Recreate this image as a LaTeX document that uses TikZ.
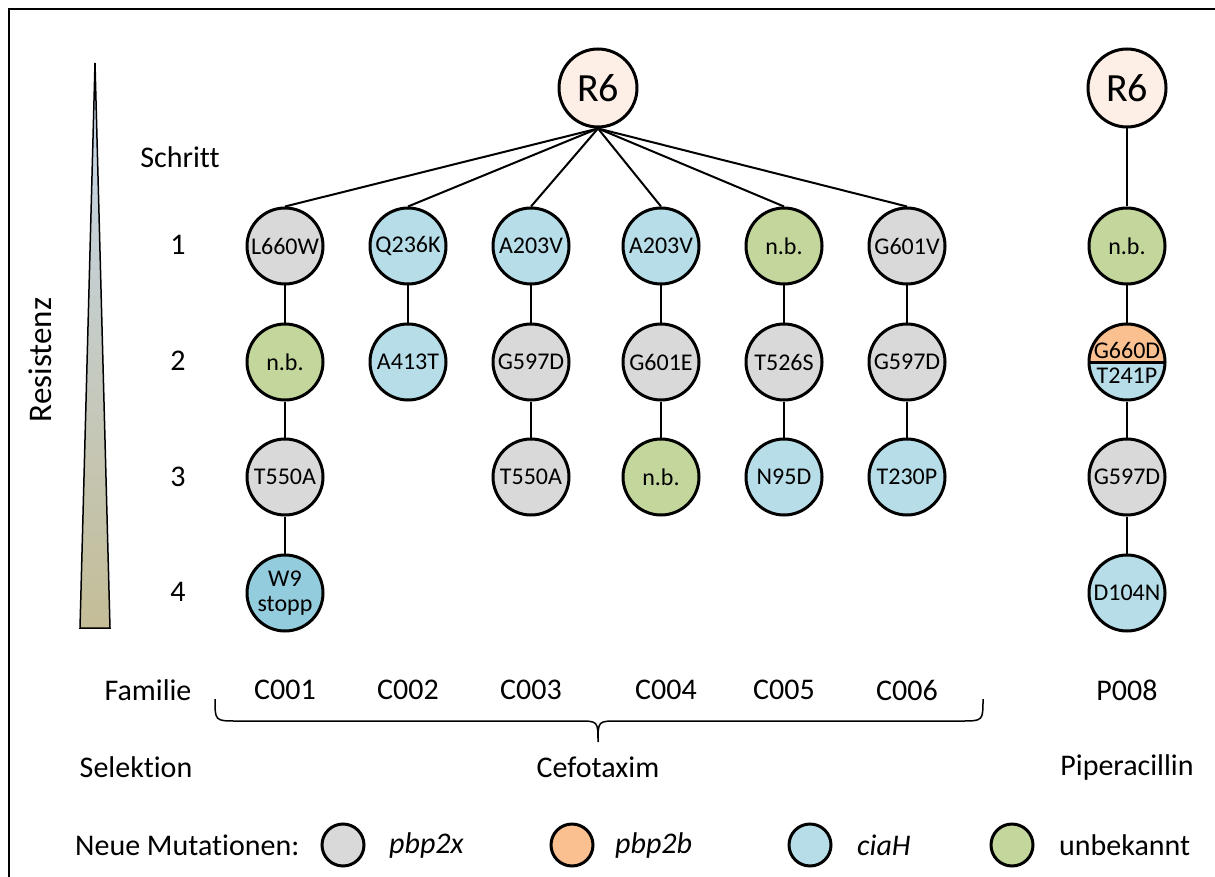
\documentclass[tikz,border=0pt]{standalone}
\usepackage{fontspec}
\setmainfont{Carlito}[Ligatures=NoCommon]
\definecolor{pbpx}{HTML}{D9D9D9}
\definecolor{pbpb}{HTML}{FAC090}
\definecolor{cia}{HTML}{B7DEE8}
\definecolor{ciadark}{HTML}{93CDDD}
\definecolor{unk}{HTML}{C3D69B}
\definecolor{rsix}{HTML}{FDEFE6}
\definecolor{restop}{HTML}{C6D9F1}
\definecolor{resbot}{HTML}{C4BD97}
\tikzset{
  mut/.style={circle,draw,line width=3pt,minimum size=76pt,inner sep=0pt,font=\fontsize{24}{26}\selectfont},
  px/.style={mut,fill=pbpx},
  cx/.style={mut,fill=cia},
  ux/.style={mut,fill=unk},
  lbl/.style={font=\fontsize{30}{32}\selectfont},
  leg/.style={circle,draw,line width=3pt,minimum size=42pt,inner sep=0pt},
}
\begin{document}
\begin{tikzpicture}[x=1pt,y=-1pt]
      \useasboundingbox (0,0) rectangle (1215,877);
      \draw[line width=1.5pt] (9,877) -- (9,9) -- (1215,9);
      \shade[top color=restop,bottom color=resbot] (95,63) -- (110,628) -- (80,628) -- cycle;
      \draw[line width=1.5pt] (95,63) -- (110,628) -- (80,628) -- cycle;
      \node[lbl,font=\fontsize{33}{35}\selectfont,rotate=90] (res) at (40,360) {Resistenz};
      \node[lbl] (schritt) at (180,157) {Schritt};
      \node[lbl] (s1) at (178,245) {1};
      \node[lbl] (s2) at (178,361) {2};
      \node[lbl] (s3) at (178,477) {3};
      \node[lbl] (s4) at (178,592) {4};
      \node[circle,draw,line width=3pt,minimum size=78pt,fill=rsix,font=\fontsize{40}{42}\selectfont] (r6) at (598,88) {R6};
      \node[circle,draw,line width=3pt,minimum size=78pt,fill=rsix,font=\fontsize{40}{42}\selectfont] (r6p) at (1127,88) {R6};
      \draw
        (285,246) node[px] (c1a){L660W}
        (285,362) node[ux] (c1b){n.b.}
        (285,477) node[px] (c1c){T550A}
        (285,593) node[mut,fill=ciadark,align=center,font=\fontsize{24}{25}\selectfont] (c1d){W9\\stopp}
        (408,246) node[cx] (c2a){Q236K}
        (408,362) node[cx] (c2b){A413T}
        (531,246) node[cx] (c3a){A203V}
        (531,362) node[px] (c3b){G597D}
        (531,477) node[px] (c3c){T550A}
        (661,246) node[cx] (c4a){A203V}
        (661,362) node[px] (c4b){G601E}
        (661,477) node[ux] (c4c){n.b.}
        (784,246) node[ux] (c5a){n.b.}
        (784,362) node[px] (c5b){T526S}
        (784,477) node[cx] (c5c){N95D}
        (907,246) node[px] (c6a){G601V}
        (907,362) node[px] (c6b){G597D}
        (907,477) node[cx] (c6c){T230P}
        (1127,246) node[ux] (p8a){n.b.}
        (1127,477) node[px] (p8c){G597D}
        (1127,593) node[cx] (p8d){D104N};
      \node[mut,path picture={
          \fill[pbpb] (path picture bounding box.west) rectangle (path picture bounding box.north east);
          \fill[cia] (path picture bounding box.west) rectangle (path picture bounding box.south east);
          \draw[line width=3pt] (path picture bounding box.west) -- (path picture bounding box.east);}] (p8b) at (1127,362) {};
      \node[font=\fontsize{24}{26}\selectfont] (p8bu) at (1127,350) {G660D};
      \node[font=\fontsize{24}{26}\selectfont] (p8bl) at (1127,376) {T241P};
      \begin{scope}[line width=2pt]
        \draw (r6.south) to (c1a.north);
        \draw (r6.south) to (c2a.north);
        \draw (r6.south) to (c3a.north);
        \draw (r6.south) to (c4a.north);
        \draw (r6.south) to (c5a.north);
        \draw (r6.south) to (c6a.north);
        \draw (r6p) to (p8a);
        \draw (c1a) to (c1b);
        \draw (c1b) to (c1c);
        \draw (c1c) to (c1d);
        \draw (c2a) to (c2b);
        \draw (c3a) to (c3b);
        \draw (c3b) to (c3c);
        \draw (c4a) to (c4b);
        \draw (c4b) to (c4c);
        \draw (c5a) to (c5b);
        \draw (c5b) to (c5c);
        \draw (c6a) to (c6b);
        \draw (c6b) to (c6c);
        \draw (p8a) to (p8b);
        \draw (p8b) to (p8c);
        \draw (p8c) to (p8d);
      \end{scope}
      \node[lbl] (fam) at (148,690) {Familie};
      \node[lbl] (f1) at (285,690) {C001};
      \node[lbl] (f2) at (408,690) {C002};
      \node[lbl] (f3) at (531,690) {C003};
      \node[lbl] (f4) at (666,690) {C004};
      \node[lbl] (f5) at (784,690) {C005};
      \node[lbl] (f6) at (907,690) {C006};
      \node[lbl] (f8) at (1127,690) {P008};
      \draw[line width=1.5pt] (215,699) .. controls (215,721) .. (237,721) -- (578,721)
        .. controls (598,721) .. (598,742) .. controls (598,721) .. (618,721) -- (961,721)
        .. controls (983,721) .. (983,699);
      \node[lbl] (sel) at (136,767) {Selektion};
      \node[lbl] (cef) at (598,767) {Cefotaxim};
      \node[lbl] (pip) at (1127,767) {Piperacillin};
      \node[lbl,anchor=west,inner sep=0pt] (neu) at (75,845) {Neue Mutationen:};
      \node[leg,fill=pbpx] (lx) at (343,845) {};
      \node[lbl,anchor=west,inner sep=0pt] (tx) at (389,845) {\itshape pbp2x};
      \node[leg,fill=pbpb] (lb) at (572,845) {};
      \node[lbl,anchor=west,inner sep=0pt] (tb) at (615,845) {\itshape pbp2b};
      \node[leg,fill=cia] (lc) at (810,845) {};
      \node[lbl,anchor=west,inner sep=0pt] (tc) at (857,845) {\itshape ciaH};
      \node[leg,fill=unk] (lu) at (1012,845) {};
      \node[lbl,anchor=west,inner sep=0pt] (tu) at (1059,845) {unbekannt};
    \end{tikzpicture}
\end{document}
